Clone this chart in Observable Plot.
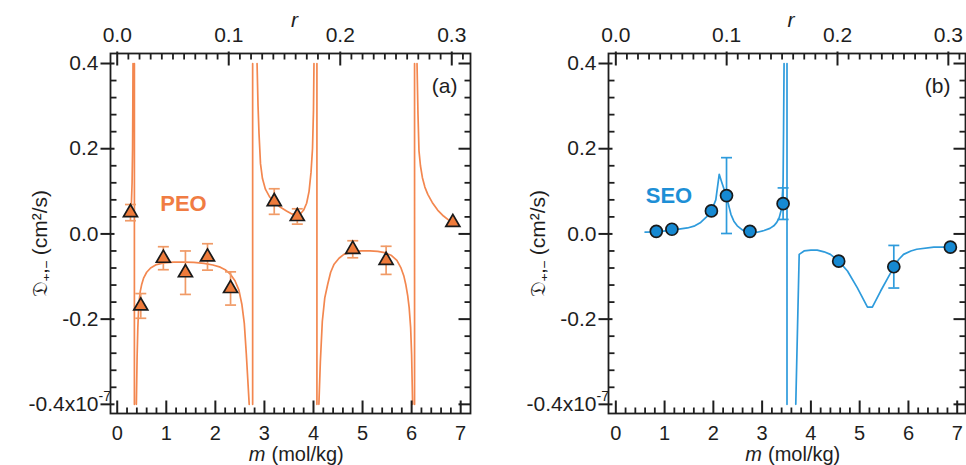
<!DOCTYPE html>
<html><head><meta charset="utf-8">
<script src="https://cdn.jsdelivr.net/npm/d3@7"></script>
<script src="https://cdn.jsdelivr.net/npm/@observablehq/plot@0.6"></script>
<style>
body{margin:0;background:#fff;}
#wrap{display:flex;width:966px;height:465px;overflow:hidden;}
</style></head><body><div id="wrap"></div>
<script>
// r (top axis) per mol/kg of m
const K = 0.044;

// PEO measured points
const peoM   = [0.27, 0.48, 0.94, 1.39, 1.84, 2.31, 3.20, 3.67, 4.80, 5.48, 6.84];
const peoD   = [0.050, -0.169, -0.057, -0.091, -0.054, -0.128, 0.076, 0.041, -0.036, -0.062, 0.027];
const peoErr = [0.019, 0.029, 0.027, 0.051, 0.031, 0.039, 0.030, 0.018, 0.020, 0.033, 0];

// PEO model curve (null = break in the line)
const peoCurveM = [0.22,0.27,0.29,0.303,0.313,0.318,0.322,0.335,
  0.35,0.35,0.37,
  0.39,0.405,0.42,0.44,0.47,0.5,0.54,0.6,0.68,0.8,0.95,1.15,1.36,1.56,1.77,1.95,2.1,2.2,2.31,2.4,2.48,2.54,2.59,2.63,2.66,2.69,2.72,
  2.76,2.76,2.8,
  2.85,2.87,2.89,2.92,2.96,3.02,3.1,3.2,3.32,3.45,3.56,3.66,3.74,3.8,3.86,3.91,3.95,3.98,4.0,4.01,4.04,
  4.07,4.07,4.09,
  4.11,4.14,4.18,4.23,4.29,4.35,4.42,4.52,4.62,4.8,4.97,5.15,5.31,5.45,5.58,5.7,5.78,5.84,5.88,5.92,5.95,5.98,6.0,6.02,6.04,
  6.06,6.06,6.08,
  6.11,6.13,6.15,6.18,6.22,6.27,6.33,6.42,6.53,6.65,6.75,6.84];
const peoCurveD = [0.046,0.053,0.075,0.12,0.2,0.3,0.4,null,
  0.4,-0.4,null,
  -0.4,-0.29,-0.22,-0.165,-0.135,-0.118,-0.103,-0.09,-0.08,-0.072,-0.068,-0.066,-0.066,-0.067,-0.069,-0.073,-0.078,-0.084,-0.095,-0.11,-0.132,-0.165,-0.21,-0.28,-0.34,-0.4,null,
  -0.4,0.4,null,
  0.4,0.3,0.235,0.165,0.13,0.105,0.088,0.074,0.063,0.054,0.047,0.044,0.048,0.056,0.072,0.1,0.145,0.2,0.29,0.4,null,
  0.4,-0.4,null,
  -0.4,-0.3,-0.205,-0.15,-0.118,-0.09,-0.071,-0.057,-0.048,-0.042,-0.04,-0.04,-0.041,-0.044,-0.05,-0.062,-0.079,-0.098,-0.118,-0.145,-0.173,-0.22,-0.283,-0.4,null,
  -0.4,0.4,null,
  0.4,0.28,0.195,0.16,0.132,0.11,0.093,0.074,0.056,0.042,0.033,0.027];

// SEO measured points
const seoM   = [0.83, 1.15, 1.96, 2.27, 2.75, 3.43, 4.57, 5.70, 6.86];
const seoD   = [0.006, 0.011, 0.054, 0.090, 0.006, 0.071, -0.064, -0.077, -0.031];
const seoErr = [0, 0, 0, 0.089, 0, 0.037, 0, 0.050, 0];

// SEO model curve
const seoCurveM = [0.6,0.84,1.15,1.47,1.62,1.74,1.86,1.96,2.05,2.12,2.17,2.22,2.29,2.36,2.42,2.49,2.6,2.72,2.9,3.04,3.16,3.24,3.3,3.35,3.4,3.43,3.44,3.45,3.48,
  3.51,3.51,3.6,
  3.69,3.76,3.86,4.0,4.13,4.27,4.4,4.57,4.75,4.95,5.16,5.26,5.43,5.57,5.7,5.8,5.9,6.05,6.17,6.52,6.86];
const seoCurveD = [0.004,0.005,0.009,0.014,0.019,0.027,0.04,0.054,0.08,0.14,0.122,0.105,0.078,0.046,0.03,0.019,0.009,0.004,0.004,0.008,0.013,0.019,0.027,0.038,0.06,0.12,0.25,0.4,null,
  0.4,-0.4,null,
  -0.4,-0.048,-0.04,-0.038,-0.038,-0.042,-0.048,-0.064,-0.087,-0.126,-0.172,-0.172,-0.134,-0.105,-0.078,-0.06,-0.048,-0.04,-0.036,-0.031,-0.031];

// axes
const yMajorTicks = [-0.4, -0.2, 0, 0.2, 0.4];
const yTickLabels = ["-0.4x10", "-0.2", "0.0", "0.2", "0.4"];
const yExponent = [{y: -0.4, text: "-7"}];
const mMajorTicks = [0, 1, 2, 3, 4, 5, 6, 7];
const mTickLabels = ["0", "1", "2", "3", "4", "5", "6", "7"];
const rMajorTicks = [0, 0.1, 0.2, 0.3];
const rTickLabels = ["0.0", "0.1", "0.2", "0.3"];
const yMinorTicks = [-0.36,-0.32,-0.28,-0.24,-0.16,-0.12,-0.08,-0.04,0.04,0.08,0.12,0.16,0.24,0.28,0.32,0.36];
const mMinorTicks = d3.range(1, 36).map(i => i / 5).filter(v => Math.abs(v - Math.round(v)) > 1e-6);
const rMinorTicks = d3.range(1, 32).map(i => i / 100).filter(v => Math.abs(v * 10 - Math.round(v * 10)) > 1e-6);

const FONT = "'Liberation Sans', Arial, Helvetica, sans-serif";
const INK = "#1e1e1e";
const TICK = "#1e1e1e";

const capSymbol = {draw(ctx, size) { const w = Math.sqrt(size / Math.PI); ctx.moveTo(-w, 0); ctx.lineTo(w, 0); }};

function panel(o) {
  const height = 465, mT = 53, mB = 52;
  const yDomain = [-0.4215, 0.4235];
  const H = height - mT - mB, W = o.width - o.mL - o.mR;
  const uy = (yDomain[1] - yDomain[0]) / H;
  const ux = (o.xDomain[1] - o.xDomain[0]) / W;
  const [x0, x1] = o.xDomain, [y0, y1] = yDomain;
  const curve = o.cm.map((m, i) => ({m, D: o.cd[i]}));
  const pts = o.pm.map((m, i) => ({m, D: o.pd[i], e: o.pe[i]}));
  const errPts = pts.filter(d => d.e > 0);
  const T = {fill: INK, fontSize: 20, lineAnchor: "middle"};
  const tk = (w) => ({stroke: TICK, strokeWidth: w});
  return Plot.plot({
    width: o.width, height, marginLeft: o.mL, marginRight: o.mR, marginTop: mT, marginBottom: mB,
    x: {domain: o.xDomain, axis: null},
    y: {domain: yDomain, axis: null},
    style: {fontFamily: FONT, fontSize: "20px", background: "white", overflow: "visible", color: INK},
    marks: [
      Plot.line(curve, {x: "m", y: "D", stroke: o.lineColor, strokeWidth: 1.7}),
      Plot.ruleX(errPts, {x: "m", y1: d => d.D - d.e, y2: d => d.D + d.e, stroke: o.errColor, strokeWidth: 1.7}),
      Plot.dot(errPts, {x: "m", y: d => d.D - d.e, symbol: capSymbol, r: 5.5, stroke: o.errColor, strokeWidth: 1.7, fill: "none"}),
      Plot.dot(errPts, {x: "m", y: d => d.D + d.e, symbol: capSymbol, r: 5.5, stroke: o.errColor, strokeWidth: 1.7, fill: "none"}),
      Plot.dot(pts, {x: "m", y: "D", symbol: o.symbol, r: o.r, fill: o.fill, stroke: "#1a1a1a", strokeWidth: 1.7}),
      Plot.frame({stroke: INK, strokeWidth: 1.8}),
      Plot.link(yMajorTicks, {x1: () => x0 - 10 * ux, x2: () => x0 + 4 * ux, y1: d => d, y2: d => d, ...tk(2)}),
      Plot.link(yMajorTicks, {x1: () => x1 - 12 * ux, x2: () => x1, y1: d => d, y2: d => d, ...tk(2)}),
      Plot.link(yMinorTicks, {x1: () => x0, x2: () => x0 + 6 * ux, y1: d => d, y2: d => d, ...tk(1.8)}),
      Plot.link(yMinorTicks, {x1: () => x1 - 6 * ux, x2: () => x1, y1: d => d, y2: d => d, ...tk(1.8)}),
      Plot.link(mMajorTicks, {x1: d => d, x2: d => d, y1: () => y0, y2: () => y0 + 13 * uy, ...tk(2)}),
      Plot.link(mMinorTicks, {x1: d => d, x2: d => d, y1: () => y0, y2: () => y0 + 6 * uy, ...tk(1.8)}),
      Plot.link(rMajorTicks, {x1: d => d / K, x2: d => d / K, y1: () => y1 + 2 * uy, y2: () => y1 - 12 * uy, ...tk(2)}),
      Plot.link(rMinorTicks, {x1: d => d / K, x2: d => d / K, y1: () => y1, y2: () => y1 - 6 * uy, ...tk(1.8)}),
      Plot.text(yMajorTicks, {...T, fontSize: 21, y: d => d, text: (d, i) => yTickLabels[i], frameAnchor: "left", textAnchor: "end", dx: -12}),
      Plot.text(yExponent, {...T, y: "y", text: "text", frameAnchor: "left", textAnchor: "start", dx: -12, dy: -8, fontSize: 14}),
      Plot.text(mMajorTicks, {...T, x: d => d, text: (d, i) => mTickLabels[i], frameAnchor: "bottom", dy: 20}),
      Plot.text(rMajorTicks, {...T, fontSize: 21, x: d => d / K, text: (d, i) => rTickLabels[i], frameAnchor: "top", dy: -18}),
      Plot.text(["r"], {...T, fontSize: 21, text: d => d, frameAnchor: "top", dx: 4, dy: -33, fontStyle: "italic"}),
      Plot.text(["m"], {...T, text: d => d, frameAnchor: "bottom", textAnchor: "end", dx: -25, dy: 41, fontStyle: "italic"}),
      Plot.text(["(mol/kg)"], {...T, text: d => d, frameAnchor: "bottom", textAnchor: "start", dx: -19, dy: 41}),
      Plot.text(["\u{1D507}\u208A,\u208B (cm\u00B2/s)"], {...T, fontSize: 21, text: d => d, frameAnchor: "left", textAnchor: "middle", dx: -70, dy: 10, rotate: -90}),
      Plot.text([o.tag], {...T, fontSize: 21, text: d => d, frameAnchor: "top-right", textAnchor: "end", dx: o.tagDx, dy: 33}),
      Plot.text(o.series, {x: "m", y: "D", text: "name", fontSize: 22, fontWeight: "bold", fill: o.labelColor})
    ]
  });
}

const wrap = document.getElementById("wrap");
wrap.append(panel({
  width: 483, mL: 110, mR: 13, xDomain: [-0.137, 7.2],
  cm: peoCurveM, cd: peoCurveD, pm: peoM, pd: peoD, pe: peoErr,
  lineColor: "#F3874F", errColor: "#F09A66", fill: "#EE7B3B", labelColor: "#F07C43",
  symbol: "triangle", r: 5.2, tag: "(a)", tagDx: -13,
  series: [{name: "PEO", m: 1.35, D: 0.07}]
}));
wrap.append(panel({
  width: 483, mL: 125, mR: 1, xDomain: [-0.15, 7.17],
  cm: seoCurveM, cd: seoCurveD, pm: seoM, pd: seoD, pe: seoErr,
  lineColor: "#2E9BDC", errColor: "#2E9BDC", fill: "#1689D2", labelColor: "#1E8FD6",
  symbol: "circle", r: 6, tag: "(b)", tagDx: -15,
  series: [{name: "SEO", m: 1.09, D: 0.089}]
}));
</script></body></html>
